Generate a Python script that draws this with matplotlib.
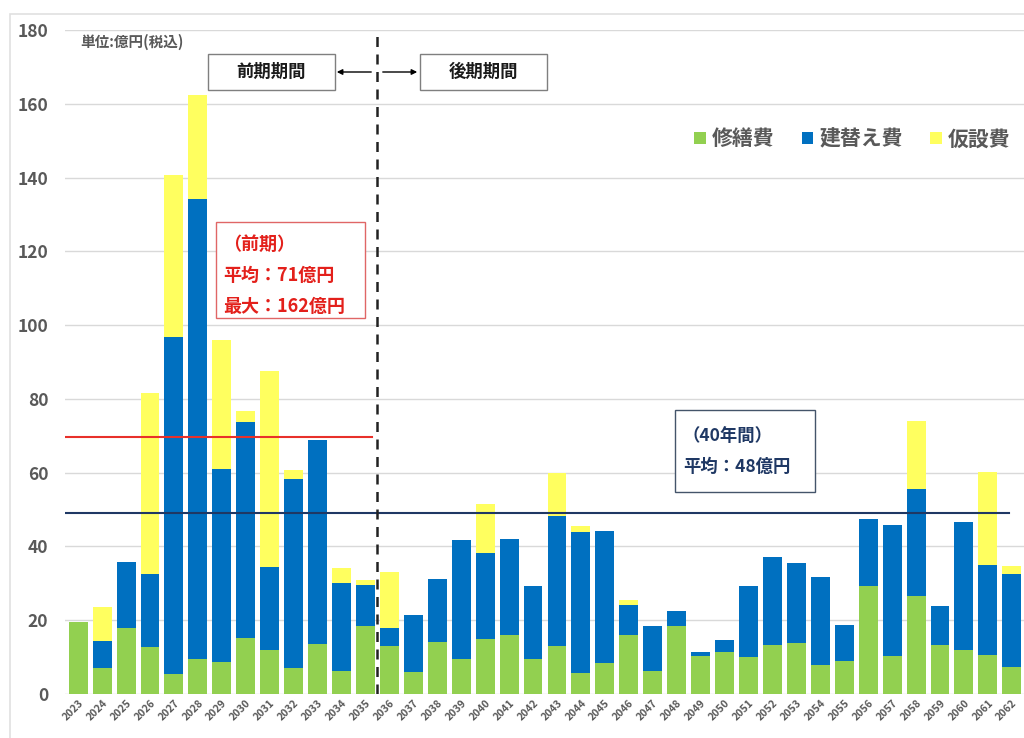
import numpy as np
import matplotlib as mpl
import matplotlib.pyplot as plt
from matplotlib.patches import Rectangle

mpl.rcParams['font.family'] = ['Noto Sans CJK JP', 'DejaVu Sans']
mpl.rcParams['font.weight'] = 'bold'

years = [str(y) for y in range(2023, 2063)]

# 修繕費
repair = [19.5, 7.1, 18.0, 12.7, 5.3, 9.4, 8.8, 15.3, 11.9, 7.1,
          13.6, 6.1, 18.4, 13.1, 6.0, 14.1, 9.4, 15.0, 16.0, 9.4,
          13.0, 5.7, 8.3, 16.0, 6.3, 18.5, 10.3, 11.3, 9.9, 13.3,
          13.7, 7.8, 8.9, 29.2, 10.3, 26.5, 13.3, 11.8, 10.5, 7.3]
# 建替え費
rebuild = [0.0, 7.4, 17.7, 19.7, 91.4, 124.8, 52.2, 58.3, 22.4, 51.3,
           55.2, 23.9, 11.1, 4.7, 15.5, 17.0, 32.3, 23.1, 26.0, 19.9,
           35.3, 38.3, 36.0, 8.0, 12.1, 4.0, 1.0, 3.3, 19.5, 23.9,
           21.9, 23.8, 9.8, 18.3, 35.6, 29.2, 10.6, 34.8, 24.4, 25.2]
# 仮設費
temporary = [0.0, 9.2, 0.0, 49.3, 44.0, 28.1, 35.0, 3.0, 53.3, 2.3,
             0.0, 4.1, 1.4, 15.4, 0.0, 0.0, 0.0, 13.3, 0.0, 0.0,
             11.6, 1.6, 0.0, 1.5, 0.0, 0.0, 0.0, 0.0, 0.0, 0.0,
             0.0, 0.0, 0.0, 0.0, 0.0, 18.2, 0.0, 0.0, 25.4, 2.2]

avg_early_line = 69.6
avg_all_line = 49.0
split_after = 12  # 2035

c_green, c_blue, c_yellow = '#92d050', '#0070c0', '#ffff5f'
c_text = '#595959'
W, H = 1024, 738


def fpos(px, py):
    return px / W, 1 - py / H


fig = plt.figure(figsize=(W / 100, H / 100), dpi=100)
ax = fig.add_axes([65 / W, 44 / H, 960 / W, 664 / H])

x = np.arange(len(years))
repair, rebuild, temporary = map(np.array, (repair, rebuild, temporary))
ax.bar(x, repair, 0.79, color=c_green, label='修繕費', zorder=2)
ax.bar(x, rebuild, 0.79, bottom=repair, color=c_blue, label='建替え費', zorder=2)
ax.bar(x, temporary, 0.79, bottom=repair + rebuild, color=c_yellow, label='仮設費', zorder=2)

ax.set_xlim(-0.55, len(years) - 0.45)
ax.set_ylim(0, 180)
ax.set_yticks(range(0, 181, 20))
ax.set_xticks(x)
ax.set_xticklabels(years, rotation=45, ha='right', rotation_mode='anchor', fontsize=7.5, color=c_text)
ax.tick_params(axis='y', labelsize=12.5, labelcolor=c_text, length=0, pad=12)
ax.tick_params(axis='x', length=0, pad=3)
ax.grid(axis='y', color='#d9d9d9', linewidth=1, zorder=0)
for s in ax.spines.values():
    s.set_visible(False)

# 平均線
ax.plot([-0.55, split_after + 0.28], [avg_early_line] * 2, color='#e8302a', lw=1.5, zorder=3)
ax.plot([-0.55, len(years) - 1.1], [avg_all_line] * 2, color='#1f3864', lw=1.5, zorder=3)
ax.axvline(split_after + 0.5, ymax=0.995, color='#222222', lw=1.8, ls=(0, (4, 3)), zorder=3)

# 外枠
fig.patches.append(Rectangle(fpos(10, 760), 1040 / W, 746 / H, transform=fig.transFigure,
                             fill=False, edgecolor='#e0e0e0', lw=1.2))

fig.text(*fpos(80, 42), '単位:億円(税込)', fontsize=10.5, color=c_text, va='center')

# 期間ボックス
for left, label in [(208, '前期期間'), (420, '後期期間')]:
    fig.patches.append(Rectangle(fpos(left, 90), 127 / W, 36 / H, transform=fig.transFigure,
                                 facecolor='white', edgecolor='#7f7f7f', lw=1))
    fig.text(*fpos(left + 63, 72), label, fontsize=12.5, color='#1a1a1a', ha='center', va='center')
fig.add_artist(mpl.patches.FancyArrowPatch(fpos(374, 72), fpos(334, 72), transform=fig.transFigure,
                                           arrowstyle='-|>', mutation_scale=8, color='black', lw=1))
fig.add_artist(mpl.patches.FancyArrowPatch(fpos(380, 72), fpos(420, 72), transform=fig.transFigure,
                                           arrowstyle='-|>', mutation_scale=8, color='black', lw=1))

# 前期ボックス
fig.patches.append(Rectangle(fpos(216, 318), 149 / W, 96 / H, transform=fig.transFigure,
                             facecolor='white', edgecolor='#e06666', lw=1))
for py, t in [(244, '（前期）'), (275, '平均：71億円'), (306, '最大：162億円')]:
    fig.text(*fpos(223, py), t, fontsize=13, color='#e3201b', va='center')

# 40年間ボックス
fig.patches.append(Rectangle(fpos(675, 492), 140 / W, 82 / H, transform=fig.transFigure,
                             facecolor='white', edgecolor='#44546a', lw=1))
for py, t in [(437, '（40年間）'), (467, '平均：48億円')]:
    fig.text(*fpos(683, py), t, fontsize=12.5, color='#1f3864', va='center')

leg = ax.legend(loc='center right', bbox_to_anchor=(1.0, 0.836), ncol=3, frameon=False,
                fontsize=15, handlelength=0.55, handleheight=0.55, handletextpad=0.3,
                columnspacing=1.3, borderaxespad=0.3)
for t in leg.get_texts():
    t.set_color(c_text)

fig.savefig('out.png', dpi=100, facecolor='white')
